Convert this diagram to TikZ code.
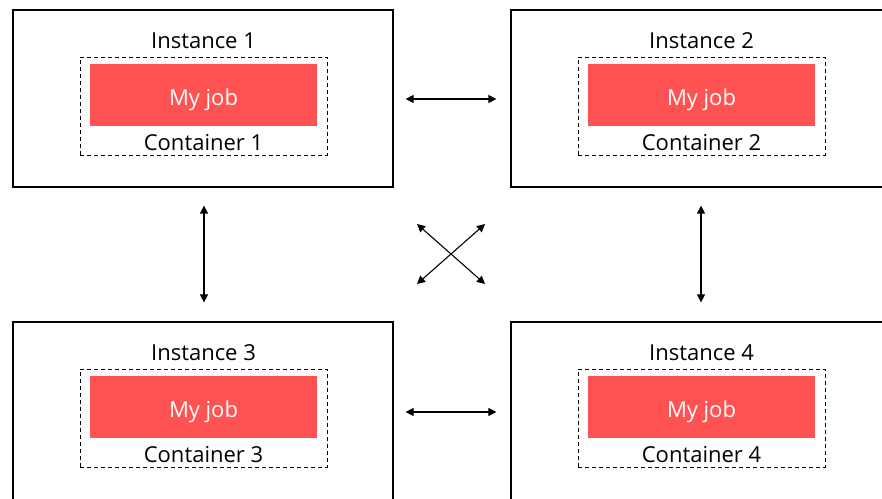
\documentclass[tikz,border=0pt]{standalone}
\usepackage{fontspec}
\setmainfont{Open Sans}
\usepackage{tikz}
\usetikzlibrary{arrows.meta}
\definecolor{jobred}{RGB}{255,82,82}
\tikzstyle{instance} = [
    rectangle,
    draw,
    line width = 1.2pt,
    minimum width = 380pt,
    minimum height = 177pt
]
\tikzstyle{container} = [
    rectangle,
    draw,
    dashed,
    dash pattern = on 4pt off 3pt,
    line width = 1pt,
    minimum width = 247pt,
    minimum height = 98pt
]
\tikzstyle{job} = [
    rectangle,
    fill = jobred,
    text = white,
    minimum width = 227pt,
    minimum height = 62pt
]
\tikzstyle{caption} = [
    anchor = base,
    inner sep = 0pt,
    font = \fontsize{22}{26}\selectfont
]
\tikzstyle{link} = [
    {Triangle[length=8pt,width=8pt]}-{Triangle[length=8pt,width=8pt]},
    line width = 1.1pt
]

\begin{document}
\begin{tikzpicture}[x=1pt, y=-1pt]
    \clip (0,0) rectangle (882,498);
    \fill[white] (0,0) rectangle (882,498);

    % instance 1
    \node[instance] (inst1) at (203,98.5) {};
    \node[container] (cont1) at (203.5,106) {};
    \node[job] (job1) at (203.5,95) {};
    \node[caption, text = white] at (203.5,105) {My job};
    \node[caption] (title1) at (203.5,48) {Instance 1};
    \node[caption] (clab1) at (203.5,150) {Container 1};

    % instance 2 (runs past the right edge)
    \node[instance, minimum width = 420pt] (inst2) at (721,98.5) {};
    \node[container] (cont2) at (701.5,106) {};
    \node[job] (job2) at (701.5,95) {};
    \node[caption, text = white] at (701.5,105) {My job};
    \node[caption] (title2) at (701.5,48) {Instance 2};
    \node[caption] (clab2) at (701.5,150) {Container 2};

    % instance 3 (runs past the bottom edge)
    \node[instance, minimum height = 220pt] (inst3) at (203,432) {};
    \node[container] (cont3) at (203.5,418) {};
    \node[job] (job3) at (203.5,407) {};
    \node[caption, text = white] at (203.5,417) {My job};
    \node[caption] (title3) at (203.5,360) {Instance 3};
    \node[caption] (clab3) at (203.5,462) {Container 3};

    % instance 4
    \node[instance, minimum width = 420pt, minimum height = 220pt] (inst4) at (721,432) {};
    \node[container] (cont4) at (701.5,418) {};
    \node[job] (job4) at (701.5,407) {};
    \node[caption, text = white] at (701.5,417) {My job};
    \node[caption] (title4) at (701.5,360) {Instance 4};
    \node[caption] (clab4) at (701.5,462) {Container 4};

    % links
    \draw[link, shorten <=12pt, shorten >=14pt] (inst1.east |- 0,99) -- (inst2.west |- 0,99);
    \draw[link, shorten <=12pt, shorten >=14pt] (inst3.east |- 0,412) -- (inst4.west |- 0,412);
    \draw[link, shorten <=18pt, shorten >=19pt] (inst1.south -| 204,0) -- (inst3.north -| 204,0);
    \draw[link, shorten <=18pt, shorten >=19pt] (inst2.south -| 701,0) -- (inst4.north -| 701,0);

    \coordinate (nw) at (417,224);
    \coordinate (ne) at (485,224);
    \coordinate (sw) at (417,284);
    \coordinate (se) at (485,284);
    \draw[link] (nw) -- (se);
    \draw[link] (ne) -- (sw);
\end{tikzpicture}
\end{document}
